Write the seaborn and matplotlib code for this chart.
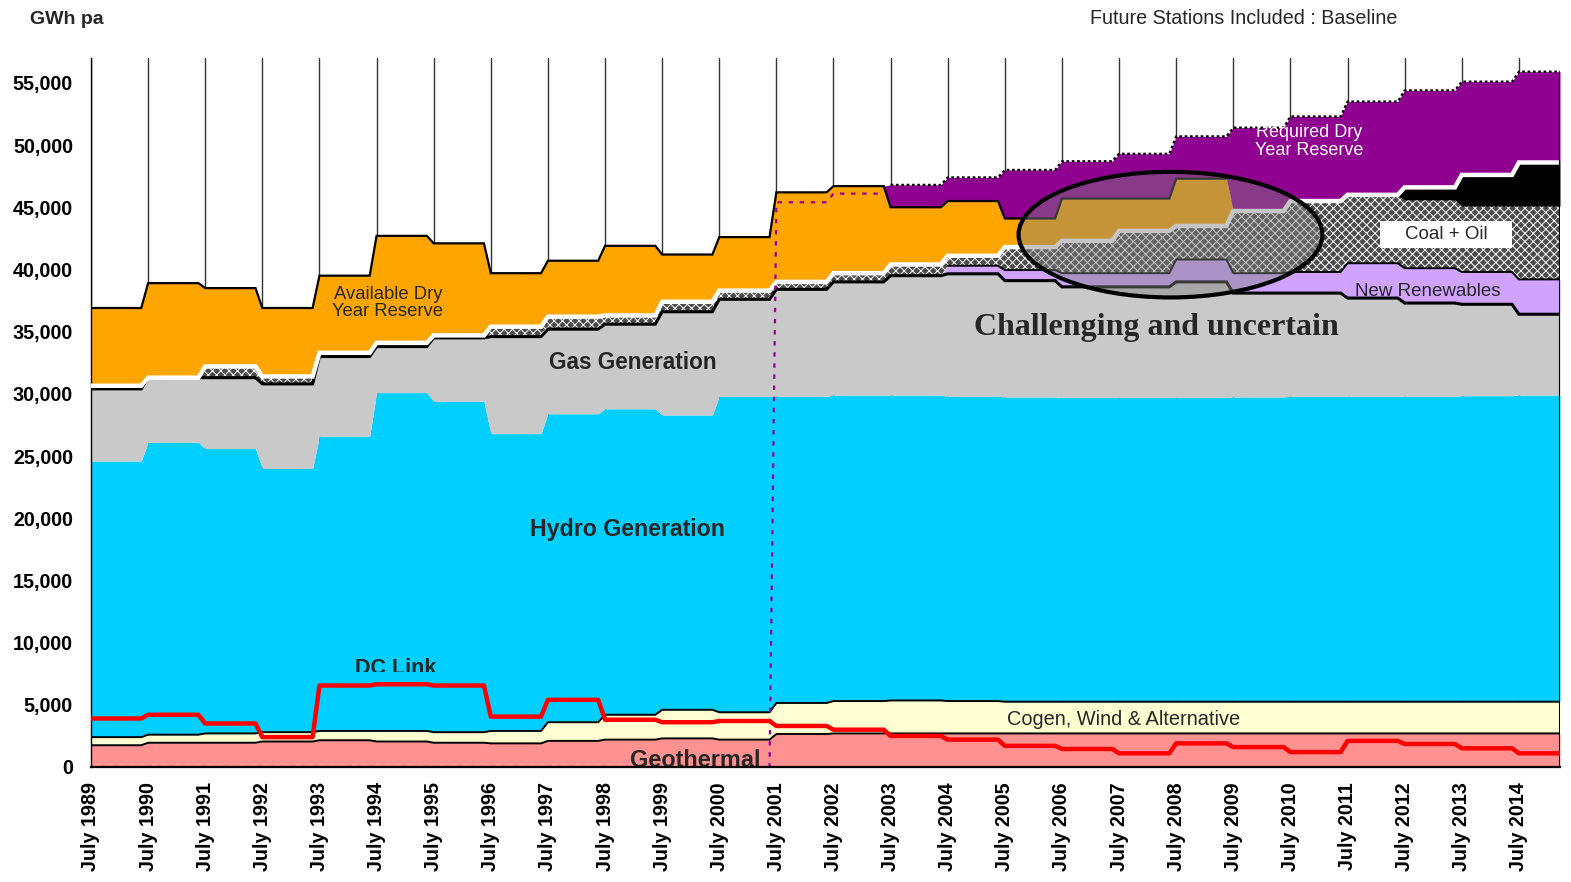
import numpy as np
import pandas as pd
import matplotlib
matplotlib.use("Agg")
import matplotlib.pyplot as plt
import seaborn as sns
from matplotlib.patches import Ellipse, Rectangle
from matplotlib.ticker import FuncFormatter

# ---------------- data (GWh per year, July years) ----------------
years = list(range(1989, 2015))
tick_labels = [f"July {y}" for y in years]

geothermal = [1750, 1950, 1950, 2050, 2150, 2050, 1950, 1900, 2100, 2200, 2300, 2200, 2650,
              2700, 2700, 2700, 2700, 2700, 2700, 2700, 2700, 2700, 2700, 2700, 2700, 2700]
cogen_wind_alt = [650, 650, 750, 750, 750, 850, 850, 1000, 1500, 2000, 2300, 2200, 2500,
                  2600, 2650, 2600, 2550, 2550, 2550, 2550, 2550, 2550, 2550, 2550, 2550, 2550]
hydro = [22200, 23500, 22900, 21200, 23700, 27200, 26600, 23900, 24800, 24600, 23700, 25400, 24650,
         24600, 24550, 24500, 24500, 24450, 24450, 24450, 24500, 24550, 24550, 24550, 24600, 24650]
gas = [5800, 5200, 5700, 6800, 6400, 3700, 5100, 7800, 6800, 6800, 8300, 7800, 8600,
       9100, 9600, 9850, 9350, 8900, 8900, 9300, 8350, 8300, 7900, 7500, 7350, 6500]
new_renewables = [0, 0, 0, 0, 0, 0, 0, 0, 0, 0, 0, 0, 0,
                  0, 0, 650, 850, 1100, 1100, 1800, 1600, 1700, 2800, 2800, 2600, 2800]
coal_oil = [250, 0, 900, 600, 300, 300, 200, 800, 1000, 700, 800, 700, 600,
            700, 900, 800, 1850, 2600, 3400, 2700, 5000, 5700, 5400, 5500, 5300, 5900]
coal_oil_new = [0, 0, 0, 0, 0, 0, 0, 0, 0, 0, 0, 0, 0,
                0, 0, 0, 0, 0, 0, 0, 0, 0, 100, 1000, 2500, 3500]
available_dry_reserve = [6250, 7600, 6300, 5500, 6200, 8600, 7400, 4300, 4500, 5600, 3800, 4300, 7200,
                         7000, 4600, 4400, 2300, 3400, 2600, 3800, 0, 0, 0, 0, 0, 0]
required_dry_reserve = [0, 0, 0, 0, 0, 0, 0, 0, 0, 0, 0, 0, 0,
                        0, 1800, 1900, 3900, 3000, 3600, 3400, 6700, 6800, 7500, 7800, 7500, 7300]
dc_link = [3900, 4200, 3500, 2400, 6550, 6650, 6550, 4050, 5400, 3800, 3600, 3700, 3300,
           3000, 2500, 2200, 1700, 1450, 1100, 1900, 1600, 1200, 2100, 1850, 1500, 1100]
required_marker = [0, 0, 0, 0, 0, 0, 0, 0, 0, 0, 0, 0, 45400, 46100]  # dotted line 1989-2002

# ---------------- style ----------------
sns.set_style("white")
plt.rcParams['font.family'] = ['Liberation Sans', 'DejaVu Sans']
plt.rcParams['hatch.linewidth'] = 0.7
plt.rcParams['hatch.color'] = '#c8c8c8'

X_END = 2014.72
RAMP = 0.12


def step_xy(vals):
    xs, ys = [], []
    for i, v in enumerate(vals):
        xs.append(years[i]); ys.append(v)
        nxt = years[i + 1] - RAMP if i + 1 < len(years) else X_END
        xs.append(nxt); ys.append(v)
    return np.array(xs, float), np.array(ys, float)


fig = plt.figure(figsize=(15.71, 8.82), dpi=100)
ax = fig.add_axes([91 / 1571, 1 - 767 / 882, (1560 - 91) / 1571, (767 - 58) / 882])
ax.set_xlim(1989, X_END)
ax.set_ylim(0, 57000)

# year grid lines behind everything
for y in years:
    ax.axvline(y, color='#333333', lw=1.0, zorder=0)

layers = [
    (geothermal, '#FF9191', None),
    (cogen_wind_alt, '#FFFFD2', None),
    (hydro, '#00CFFF', None),
    (gas, '#C9C9C9', None),
    (new_renewables, '#CFA3FF', None),
    (coal_oil, '#4c4c4c', 'xxxx'),
    (coal_oil_new, '#000000', None),
    (available_dry_reserve, '#FFA500', None),
    (required_dry_reserve, '#900090', None),
]

cum = np.zeros(len(years))
tops = []
for vals, col, hatch in layers:
    lo = cum.copy()
    cum = cum + np.array(vals, float)
    xs, ylo = step_xy(lo)
    _, yhi = step_xy(cum)
    ax.fill_between(xs, ylo, yhi, facecolor=col, hatch=hatch, linewidth=0, zorder=2)
    tops.append(cum.copy())

xs, _ = step_xy(tops[0])


def line(top, color, lw, ls='-', mask=None):
    _, yy = step_xy(top)
    if mask is not None:
        _, mm = step_xy(np.array(mask, float))
        yy = np.where(mm > 0, yy, np.nan)
    ax.plot(xs, yy, color=color, lw=lw, ls=ls, zorder=3, solid_joinstyle='miter')


line(tops[0], 'black', 1.4)          # geothermal top
line(tops[1], 'black', 1.4)          # cogen top
line(tops[3], 'black', 2.2)          # gas top
line(tops[4], 'black', 1.4, mask=new_renewables)
line(tops[6], 'white', 3.2)          # gap under available reserve
line(tops[7], 'black', 1.6, mask=available_dry_reserve)
_, ytop = step_xy(tops[8])
_, mreq = step_xy(np.array(required_dry_reserve, float))
ax.plot(xs, np.where(mreq > 0, ytop, np.nan), color='black', lw=1.6, ls=(0, (1.2, 1.2)), zorder=3)
ax.plot([X_END, X_END], [0, tops[8][-1]], color='black', lw=1.5, zorder=3)

# dotted marker for required reserve before 2003
mx, my = step_xy(required_marker)
ax.plot(mx, my, color='#990099', lw=1.6, ls=(0, (2, 3)), zorder=3)

# DC link line drawn with seaborn
dx, dy = step_xy(dc_link)
dc_df = pd.DataFrame({'x': dx, 'y': dy})
sns.lineplot(data=dc_df, x='x', y='y', estimator=None, sort=False, color='#FF0000', lw=3.2,
             ax=ax, zorder=4)

# ellipse highlight
ell = Ellipse((2007.9, 42800), width=5.32, height=10100, facecolor=(0.5, 0.5, 0.5, 0.45),
              edgecolor='black', lw=3, zorder=5)
ax.add_patch(ell)

# coal + oil box
ax.add_patch(Rectangle((2011.57, 41750), 2.315, 2180, facecolor='white', edgecolor='none', zorder=6))

# ---------------- labels ----------------
ax.text(1994.2, 37300, "Available Dry\nYear Reserve", ha='center', va='center', fontsize=13.3,
        linespacing=1.05, zorder=7)
ax.text(1998.49, 32500, "Gas Generation", ha='center', va='center', fontsize=16.3,
        fontweight='bold', zorder=7)
ax.text(1998.4, 19070, "Hydro Generation", ha='center', va='center', fontsize=16.7,
        fontweight='bold', zorder=7)
dc = ax.text(1994.34, 7450, "DC Link", ha='center', va='baseline', fontsize=15.5,
             fontweight='bold', zorder=7)
clip_rect = Rectangle((1992.5, 7650), 4, 5000, transform=ax.transData)
dc.set_clip_path(clip_rect)
dc.set_clip_on(True)
ax.text(1999.58, 30, "Geothermal", ha='center', va='baseline', fontsize=16.9,
        fontweight='bold', zorder=7, clip_on=True)
ax.text(2007.07, 3780, "Cogen, Wind & Alternative", ha='center', va='center', fontsize=14.4,
        zorder=7)
ax.text(2007.65, 35300, "Challenging and uncertain", ha='center', va='center', fontsize=23,
        fontweight='bold', family=['Liberation Serif', 'DejaVu Serif'], zorder=4.5)
ax.text(2010.33, 50300, "Required Dry\nYear Reserve", ha='center', va='center', fontsize=13,
        color='white', linespacing=1.1, zorder=7)
ax.text(2012.73, 42840, "Coal + Oil", ha='center', va='center', fontsize=13.5, zorder=7)
ax.text(2012.4, 38200, "New Renewables", ha='center', va='center', fontsize=13.5, zorder=7)

fig.text(30 / 1571, 1 - 19 / 882, "GWh pa", ha='left', va='center', fontsize=14, fontweight='bold')
fig.text(1244 / 1571, 1 - 19 / 882, "Future Stations Included : Baseline", ha='center',
         va='center', fontsize=14.2)

# ---------------- axes ----------------
ax.set_xticks(years)
ax.set_xticklabels(tick_labels, rotation=90, fontweight='bold', fontsize=14.2)
ax.set_yticks(range(0, 55001, 5000))
ax.yaxis.set_major_formatter(FuncFormatter(lambda v, p: f"{int(v):,}"))
for lab in ax.get_yticklabels():
    lab.set_fontweight('bold')
    lab.set_fontsize(14.2)
ax.tick_params(axis='x', direction='out', length=5, width=1, pad=6, colors='black')
ax.tick_params(axis='y', direction='out', length=6, width=1, pad=7, colors='black')
ax.set_xlabel('')
ax.set_ylabel('')
for s in ['top', 'right']:
    ax.spines[s].set_visible(False)
ax.spines['left'].set_color('black')
ax.spines['bottom'].set_color('black')
ax.spines['bottom'].set_linewidth(1.6)
ax.spines['left'].set_linewidth(1.0)
ax.spines['bottom'].set_zorder(8)

fig.savefig("out.png", dpi=100, facecolor='white')
